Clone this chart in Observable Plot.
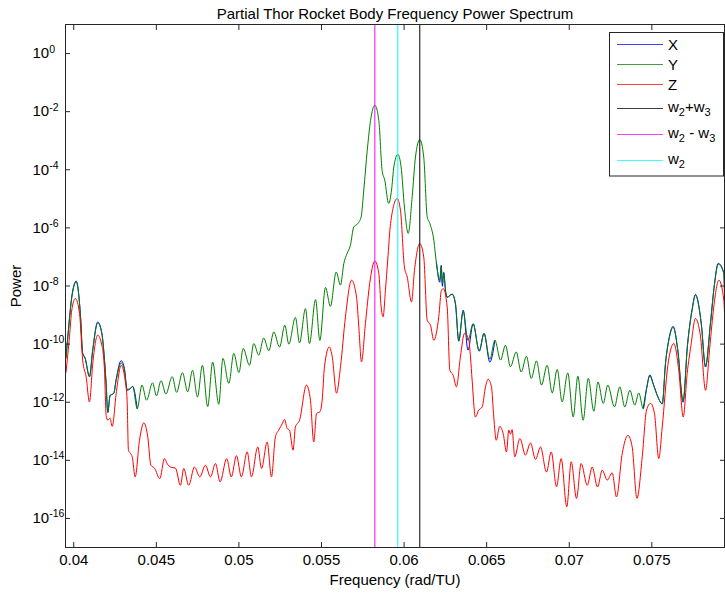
<!DOCTYPE html>
<html>
<head>
<meta charset="utf-8">
<script src="https://cdn.jsdelivr.net/npm/d3@7"></script>
<script src="https://cdn.jsdelivr.net/npm/@observablehq/plot@0.6"></script>
<style>
  body { margin: 0; background: #fff; font-family: "Liberation Sans", Arial, sans-serif; }
  #wrap { position: relative; width: 725px; height: 594px; }
</style>
</head>
<body>
<div id="wrap"></div>
<script>
// ---- Data (frequency in rad/TU, power stored as log10(power)) ----
const yFreq = [
  0.03953,0.03968,0.03986,0.04015,0.04041,0.04054,0.04069,0.04095,0.04115,0.04145,
  0.04170,0.04186,0.04196,0.04206,0.04220,0.04242,0.04257,0.04287,0.04307,0.04323,
  0.04337,0.04357,0.04384,0.04413,0.04441,0.04477,0.04501,0.04528,0.04558,0.04596,
  0.04623,0.04658,0.04690,0.04719,0.04749,0.04779,0.04811,0.04841,0.04878,0.04903,
  0.04939,0.04969,0.05000,0.05026,0.05064,0.05090,0.05120,0.05150,0.05181,0.05211,
  0.05246,0.05278,0.05302,0.05342,0.05367,0.05403,0.05427,0.05464,0.05490,0.05524,
  0.05554,0.05589,0.05615,0.05635,0.05655,0.05675,0.05695,0.05720,0.05740,0.05756,
  0.05777,0.05797,0.05823,0.05847,0.05867,0.05883,0.05907,0.05924,0.05938,0.05962,
  0.05982,0.06002,0.06025,0.06049,0.06069,0.06095,0.06119,0.06140,0.06156,0.06180,
  0.06196,0.06216,0.06225,0.06232,0.06240,0.06251,0.06261,0.06291,0.06311,0.06331,
  0.06358,0.06387,0.06418,0.06455,0.06484,0.06519,0.06550,0.06584,0.06614,0.06644,
  0.06679,0.06709,0.06741,0.06770,0.06802,0.06832,0.06866,0.06897,0.06927,0.06957,
  0.06991,0.07024,0.07052,0.07084,0.07115,0.07149,0.07174,0.07206,0.07233,0.07274,
  0.07306,0.07336,0.07367,0.07397,0.07421,0.07448,0.07468,0.07488,0.07510,0.07537,
  0.07563,0.07583,0.07603,0.07629,0.07657,0.07689,0.07716,0.07744,0.07764,0.07799,
  0.07825,0.07855,0.07879,0.07902,0.07936,0.07942
];
const yLogPower = [
  -10.49,-9.52,-8.49,-7.86,-9.06,-10.32,-10.50,-11.13,-10.21,-9.27,
  -9.64,-10.55,-11.36,-12.33,-11.76,-11.70,-11.24,-10.65,-10.90,-11.59,
  -11.56,-11.45,-12.22,-11.41,-11.93,-11.33,-11.78,-11.26,-11.72,-11.12,
  -11.66,-10.98,-11.64,-10.90,-11.82,-10.73,-12.15,-10.62,-12.07,-10.49,
  -11.35,-10.32,-10.98,-10.15,-10.73,-9.98,-10.38,-9.79,-10.23,-9.58,
  -10.10,-9.35,-10.00,-9.08,-9.96,-8.78,-9.98,-8.47,-9.87,-8.05,
  -8.70,-7.52,-7.97,-7.23,-6.88,-6.60,-5.97,-5.85,-5.62,-4.70,
  -3.33,-2.30,-1.78,-2.30,-4.02,-4.36,-5.16,-4.70,-3.90,-3.47,
  -3.90,-5.28,-6.19,-4.93,-3.56,-2.96,-3.56,-5.62,-5.85,-6.42,
  -7.23,-7.80,-7.34,-7.91,-7.57,-8.15,-8.38,-8.28,-8.60,-9.87,
  -8.87,-9.87,-9.30,-10.24,-9.63,-10.52,-9.87,-10.55,-10.04,-10.78,
  -10.27,-10.96,-10.42,-11.18,-10.58,-11.41,-10.73,-11.68,-10.87,-11.99,
  -10.99,-12.51,-11.10,-12.62,-11.18,-12.31,-11.30,-12.04,-11.41,-12.16,
  -11.47,-12.16,-11.59,-12.10,-11.68,-12.22,-11.55,-11.09,-11.41,-11.82,
  -12.05,-10.66,-9.87,-9.42,-10.21,-11.95,-10.04,-8.83,-8.32,-9.29,
  -10.76,-9.29,-7.97,-7.25,-7.57,-8.89
];
const zFreq = [
  0.03953,0.03974,0.03988,0.04010,0.04035,0.04054,0.04075,0.04095,0.04115,0.04145,
  0.04170,0.04186,0.04196,0.04206,0.04219,0.04233,0.04257,0.04287,0.04311,0.04323,
  0.04331,0.04343,0.04354,0.04372,0.04398,0.04424,0.04448,0.04467,0.04489,0.04521,
  0.04549,0.04567,0.04586,0.04616,0.04646,0.04666,0.04696,0.04731,0.04763,0.04797,
  0.04828,0.04858,0.04886,0.04926,0.04954,0.04985,0.05015,0.05050,0.05076,0.05114,
  0.05137,0.05171,0.05197,0.05221,0.05241,0.05264,0.05276,0.05292,0.05306,0.05328,
  0.05342,0.05367,0.05409,0.05433,0.05453,0.05470,0.05490,0.05504,0.05518,0.05547,
  0.05565,0.05591,0.05615,0.05645,0.05682,0.05712,0.05726,0.05742,0.05766,0.05792,
  0.05823,0.05847,0.05861,0.05873,0.05887,0.05901,0.05918,0.05958,0.05978,0.06002,
  0.06019,0.06045,0.06063,0.06095,0.06119,0.06140,0.06160,0.06180,0.06210,0.06226,
  0.06237,0.06261,0.06277,0.06297,0.06317,0.06341,0.06366,0.06392,0.06402,0.06412,
  0.06432,0.06452,0.06473,0.06493,0.06509,0.06529,0.06543,0.06558,0.06579,0.06600,
  0.06620,0.06634,0.06644,0.06654,0.06670,0.06701,0.06735,0.06765,0.06796,0.06826,
  0.06862,0.06891,0.06923,0.06951,0.06985,0.07012,0.07044,0.07072,0.07109,0.07139,
  0.07171,0.07200,0.07230,0.07260,0.07286,0.07321,0.07355,0.07381,0.07410,0.07442,
  0.07468,0.07492,0.07516,0.07542,0.07563,0.07597,0.07633,0.07663,0.07690,0.07714,
  0.07737,0.07764,0.07795,0.07825,0.07851,0.07875,0.07906,0.07936,0.07942
];
const zLogPower = [
  -10.97,-9.75,-8.83,-8.43,-8.95,-10.55,-11.13,-11.99,-10.67,-9.69,
  -10.04,-10.90,-12.45,-12.62,-12.55,-12.83,-11.70,-10.73,-11.24,-11.93,
  -13.65,-13.76,-13.88,-14.57,-13.31,-12.71,-13.19,-14.17,-14.27,-14.63,
  -13.94,-14.13,-14.23,-14.27,-14.86,-14.28,-14.86,-14.23,-14.57,-14.17,
  -14.57,-14.11,-14.74,-13.94,-14.57,-13.84,-14.57,-13.71,-14.57,-13.54,
  -14.28,-13.37,-14.57,-13.19,-12.96,-12.72,-12.59,-12.90,-12.96,-13.65,
  -12.85,-12.62,-11.41,-11.93,-13.37,-12.39,-12.33,-11.93,-10.78,-10.10,
  -10.44,-11.69,-10.78,-9.06,-7.80,-8.38,-9.41,-10.61,-9.29,-7.91,
  -7.14,-7.57,-8.72,-9.06,-8.15,-7.11,-5.85,-4.99,-5.39,-7.34,
  -7.69,-8.55,-7.46,-6.54,-7.00,-9.18,-9.35,-9.87,-9.06,-8.15,
  -8.09,-8.72,-10.90,-11.07,-11.47,-10.44,-9.63,-9.87,-10.44,-11.24,
  -12.51,-12.27,-12.16,-11.47,-11.21,-11.47,-12.51,-13.31,-12.83,-13.08,
  -13.71,-12.96,-13.10,-12.94,-13.88,-13.25,-13.82,-13.40,-13.97,-13.54,
  -14.40,-13.71,-14.91,-13.94,-15.60,-14.05,-15.31,-14.11,-14.86,-14.23,
  -14.92,-14.34,-14.68,-14.43,-15.26,-13.76,-13.14,-13.54,-15.31,-13.88,
  -12.27,-12.04,-12.39,-13.94,-12.85,-10.73,-9.98,-10.90,-12.51,-11.01,
  -10.04,-9.12,-9.75,-11.59,-10.10,-8.72,-7.80,-8.49,-9.28
];
// X is almost identical to Y; only the stretches where it shows past Y are listed
const xFreqLow = [0.03953,0.03968,0.03986,0.04015,0.04041,0.04054,0.04069,0.04095,0.04115,0.04145,0.04170,0.04186,0.04196,0.04206,0.04220,0.04242,0.04257,0.04287,0.04307,0.04323,0.04337,0.04357,0.04384];
const xLogLow  = [-10.45,-9.48,-8.45,-7.83,-9.04,-10.31,-10.48,-11.11,-10.19,-9.24,-9.62,-10.53,-11.37,-12.36,-11.78,-11.69,-11.20,-10.57,-10.85,-11.56,-11.55,-11.46,-12.22];
const xFreqMid = [0.06196,0.06216,0.06225,0.06232,0.06240,0.06251,0.06261,0.06291,0.06311,0.06331,0.06358,0.06387,0.06418,0.06455,0.06484,0.06519,0.06550];
const xLogMid  = [-7.18,-7.87,-7.29,-8.01,-7.53,-8.18,-8.39,-8.28,-8.63,-9.90,-8.83,-10.21,-9.30,-10.24,-9.63,-10.62,-9.87];
const xFreqHigh = [0.07448,0.07468,0.07488,0.07510,0.07537,0.07563,0.07583,0.07603,0.07629,0.07657,0.07689,0.07716,0.07744,0.07764,0.07799,0.07825,0.07855,0.07879,0.07902,0.07936,0.07942];
const xLogHigh  = [-12.22,-11.53,-11.06,-11.39,-11.82,-12.06,-10.64,-9.84,-9.39,-10.19,-12.00,-10.02,-8.80,-8.29,-9.27,-10.79,-9.27,-7.94,-7.22,-7.55,-8.89];

// reference frequencies (rad/TU)
const markerNames = ["w2+w3", "w2 - w3", "w2"];
const markerFreq  = [0.06095, 0.05823, 0.05962];
const markerColor = ["#000000", "#ff00ff", "#00ffff"];

const xTicks = [0.04, 0.045, 0.05, 0.055, 0.06, 0.065, 0.07, 0.075];
const yTickExponents = [0, -2, -4, -6, -8, -10, -12, -14, -16];

const seriesColor = {X: "#0000ff", Y: "#008000", Z: "#ff0000"};
// legend labels as [text, subscript, text, subscript ...] pieces
const legendLabels = [["X"], ["Y"], ["Z"], ["w", "2", "+w", "3"], ["w", "2", " - w", "3"], ["w", "2"]];
const legendColors = [seriesColor.X, seriesColor.Y, seriesColor.Z, markerColor[0], markerColor[1], markerColor[2]];

// ---- Build tables ----
const rows = (fs, ls, part) => fs.map((f, i) => ({f, p: Math.pow(10, ls[i]), part}));
const xRows = [...rows(xFreqLow, xLogLow, 1), ...rows(xFreqMid, xLogMid, 2), ...rows(xFreqHigh, xLogHigh, 3)];
const yRows = rows(yFreq, yLogPower, 0);
const zRows = rows(zFreq, zLogPower, 0);
const markers = markerFreq.map((f, i) => ({f, name: markerNames[i], color: markerColor[i]}));

const font = "'Liberation Sans', Arial, sans-serif";
const chart = Plot.plot({
  width: 725,
  height: 594,
  marginTop: 24,
  marginLeft: 65,
  marginRight: 1,
  marginBottom: 47,
  style: {fontFamily: font, fontSize: "15px", color: "#000", background: "#fff", overflow: "visible"},
  x: {domain: [0.0395, 0.0794]},
  y: {type: "log", domain: [1e-17, 10]},
  marks: [
    Plot.line(xRows, {x: "f", y: "p", z: "part", stroke: seriesColor.X, strokeWidth: 1, curve: "monotone-x", clip: true}),
    Plot.line(yRows, {x: "f", y: "p", stroke: seriesColor.Y, strokeWidth: 1, curve: "monotone-x", clip: true}),
    Plot.line(zRows, {x: "f", y: "p", stroke: seriesColor.Z, strokeWidth: 1, curve: "monotone-x", clip: true}),
    Plot.ruleX(markers, {x: "f", stroke: "color", strokeWidth: 1}),
    Plot.frame({stroke: "#262626", strokeWidth: 1}),
    Plot.axisX({anchor: "bottom", ticks: xTicks, tickFormat: d => String(d), tickSize: -5, tickPadding: 12,
                stroke: "#262626", label: "Frequency (rad/TU)", labelAnchor: "center", labelArrow: "none", labelOffset: 37}),
    Plot.axisX({anchor: "top", ticks: xTicks, tickFormat: () => "", tickSize: -5, stroke: "#262626", label: null}),
    Plot.axisY({anchor: "left", ticks: yTickExponents.map(e => Math.pow(10, e)), tickFormat: d => String(Math.round(Math.log10(d))),
                tickSize: -5, tickPadding: 38, textAnchor: "start", stroke: "#262626",
                label: "Power", labelAnchor: "center", labelArrow: "none", labelOffset: 55}),
    Plot.axisY({anchor: "right", ticks: yTickExponents.map(e => Math.pow(10, e)), tickFormat: () => "", tickSize: -5, stroke: "#262626", label: null}),
    Plot.text(["Partial Thor Rocket Body Frequency Power Spectrum"], {frameAnchor: "top", dy: -16, fontSize: 15})
  ]
});

// superscript exponents on the log axis labels (10^n)
chart.querySelectorAll('g[aria-label="y-axis tick label"] text').forEach(t => {
  const e = t.textContent;
  if (!e) return;
  t.textContent = "10";
  const s = document.createElementNS("http://www.w3.org/2000/svg", "tspan");
  s.setAttribute("dy", "-0.55em");
  s.setAttribute("font-size", "0.7em");
  s.textContent = e;
  t.appendChild(s);
});

// legend box (drawn in the same SVG, upper right inside the frame)
const svg = d3.select(chart);
const lg = svg.append("g").attr("aria-label", "legend").attr("font-family", font).attr("font-size", 15)
  .attr("text-anchor", "start");
lg.append("rect").attr("x", 609.5).attr("y", 32.5).attr("width", 114).attr("height", 143.5)
  .attr("fill", "#fff").attr("stroke", "#262626");
const lineYs = [44.5, 64.5, 84.5, 108.5, 134.5, 160.5];
legendLabels.forEach((parts, i) => {
  const y = lineYs[i];
  lg.append("line").attr("x1", 617).attr("x2", 663).attr("y1", y).attr("y2", y)
    .attr("stroke", legendColors[i]).attr("stroke-width", 1).attr("stroke-opacity", 0.75);
  const t = lg.append("text").attr("x", 668).attr("y", y + (parts.length > 1 ? 3.5 : 5.5))
    .attr("fill", "#000").attr("text-anchor", "start").style("white-space", "pre");
  parts.forEach((p, j) => {
    const sub = j % 2 === 1;
    const ts = t.append("tspan").text(p);
    if (sub) ts.attr("font-size", 11).attr("dy", 4);
    else if (j > 0) ts.attr("dy", -4);
  });
});

document.getElementById("wrap").appendChild(chart);
</script>
</body>
</html>
